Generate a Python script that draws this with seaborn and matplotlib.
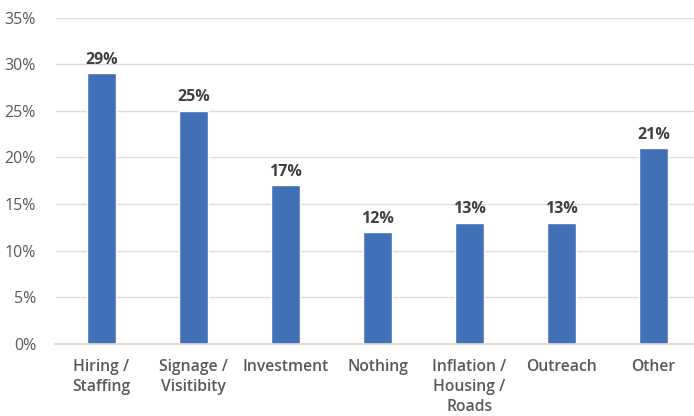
import matplotlib
matplotlib.use("Agg")
import matplotlib.pyplot as plt
import seaborn as sns
import pandas as pd
from matplotlib.ticker import PercentFormatter

categories = ["Hiring /\nStaffing", "Signage /\nVisitibity", "Investment", "Nothing",
              "Inflation /\nHousing /\nRoads", "Outreach", "Other"]
values = [29, 25, 17, 12, 13, 13, 21]
value_labels = ["29%", "25%", "17%", "12%", "13%", "13%", "21%"]

sns.set_theme(style="white")
plt.rcParams['font.family'] = ['Open Sans', 'DejaVu Sans']

df = pd.DataFrame({"category": categories, "value": values})

fig = plt.figure(figsize=(6.94, 4.16), dpi=100)
ax = fig.add_axes([55.5/694, 72/416, 1 - 55.5/694, (344 - 17.5)/416])

sns.barplot(data=df, x="category", y="value", color="#4170B8", saturation=1,
            width=0.32, ax=ax)

ax.set_ylim(0, 35)
ax.set_xlim(-0.5, 6.44)
ax.set_yticks(range(0, 36, 5))
ax.yaxis.set_major_formatter(PercentFormatter(decimals=0))
ax.grid(axis="y", color="#DDDDDD", linewidth=1)
ax.set_axisbelow(True)
for s in ["top", "right", "left"]:
    ax.spines[s].set_visible(False)
ax.spines["bottom"].set_color("#D9D9D9")
ax.set_xlabel("")
ax.set_ylabel("")
ax.tick_params(axis="y", length=0, pad=14, labelsize=11.5, labelcolor="#595959")
ax.tick_params(axis="x", length=0, pad=11, labelsize=11.3, labelcolor="#595959")
for lbl in ax.get_xticklabels():
    lbl.set_fontweight("semibold")
    lbl.set_linespacing(1.32)
    lbl.set_verticalalignment("top")
for lbl in ax.get_yticklabels():
    lbl.set_fontweight("medium")

for i, (v, t) in enumerate(zip(values, value_labels)):
    ax.annotate(t, (i, v), xytext=(0, 4), textcoords="offset points",
                ha="center", va="bottom", fontsize=11.5, fontweight="bold",
                color="#404040")

fig.savefig("out.png", dpi=100)
